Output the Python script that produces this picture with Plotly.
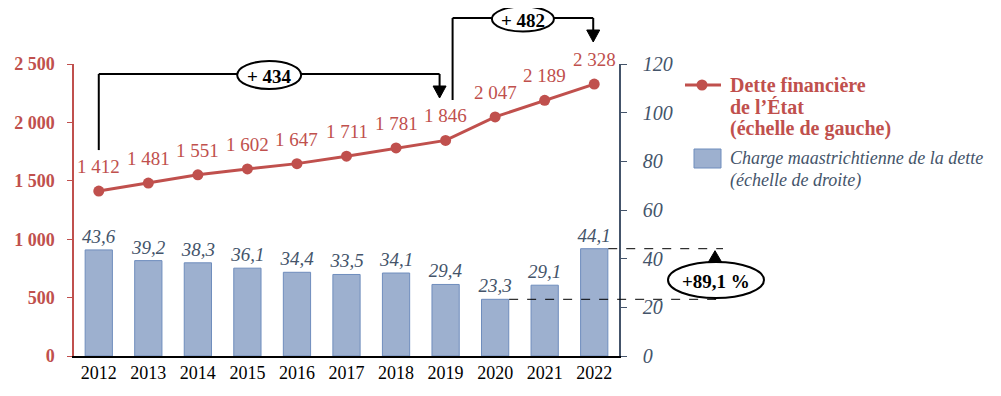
import plotly.graph_objects as go

# ---------------- data ----------------
years = ["2012", "2013", "2014", "2015", "2016", "2017", "2018", "2019", "2020", "2021", "2022"]
debt = [1412, 1481, 1551, 1602, 1647, 1711, 1781, 1846, 2047, 2189, 2328]
charge = [43.6, 39.2, 38.3, 36.1, 34.4, 33.5, 34.1, 29.4, 23.3, 29.1, 44.1]
left_ticks = [0, 500, 1000, 1500, 2000, 2500]
right_ticks = [0, 20, 40, 60, 80, 100, 120]
pct_label = "+89,1 %"
legend_line_text = ["Dette financière", "de l’État", "(échelle de gauche)"]
legend_bar_text = ["Charge maastrichtienne de la dette", "(échelle de droite)"]

# ---------------- style ----------------
FONT = "Liberation Serif"
RED = "#C0504D"
BLUE_TXT = "#44546A"
BAR_FILL = "#9DB0CF"
BAR_LINE = "#6F8DBD"

OFF = 8                      # page body margin
PL, PR, PT, PB = 74, 619, 64, 356   # plot area in page pixels
W, H = 1001 - OFF, 396 - OFF
L, T = PL - OFF, PT - OFF
R, B = W - (PR - OFF), H - (PB - OFF)
PW = PR - PL
PH = PB - PT
YL_MAX = left_ticks[-1]
YR_MAX = right_ticks[-1]
N = len(years)


def px(p):
    return (p - PL) / PW


def py(p):
    return (PB - p) / PH


def cat_px(i):
    return PL + (i + 0.5) * PW / N


def left_px(v):
    return PB - v / YL_MAX * PH


def right_px(v):
    return PB - v / YR_MAX * PH


shapes = []
annotations = []


def seg(x0, y0, x1, y1, width=2, dash=None, color="black"):
    shapes.append(dict(type="line", xref="paper", yref="paper",
                       x0=px(x0), y0=py(y0), x1=px(x1), y1=py(y1),
                       line=dict(color=color, width=width, dash=dash)))


def tri(xc, ytip, up=False, w=13, h=12):
    yb = ytip + h if up else ytip - h
    path = "M {} {} L {} {} L {} {} Z".format(px(xc - w / 2), py(yb), px(xc + w / 2), py(yb), px(xc), py(ytip))
    shapes.append(dict(type="path", xref="paper", yref="paper", path=path,
                       fillcolor="black", line=dict(color="black", width=1)))


def ellipse(xc, yc, w, h, text):
    shapes.append(dict(type="circle", xref="paper", yref="paper",
                       x0=px(xc - w / 2), x1=px(xc + w / 2), y0=py(yc + h / 2), y1=py(yc - h / 2),
                       fillcolor="white", line=dict(color="black", width=2)))
    annotations.append(dict(xref="paper", yref="paper", x=px(xc), y=py(yc + 1), text="<b>" + text + "</b>",
                            showarrow=False, xanchor="center", yanchor="middle",
                            font=dict(family=FONT, size=19, color="black")))


# bracket 2012 -> 2019
xa, xb = cat_px(0), cat_px(7) - 6
seg(xa, left_px(debt[0]) - 41, xa, 74)
seg(xa, 74, xb, 74)
seg(xb, 74, xb, 88)
tri(xb, 98)
ellipse((xa + xb) / 2, 75, 64, 28, "+ {}".format(debt[7] - debt[0]))

# bracket 2019 -> 2022
xc, xd = cat_px(7) + 7, cat_px(10) - 1
seg(xc, 100, xc, 18)
seg(xc, 18, xd, 18)
seg(xd, 18, xd, 32)
tri(xd, 42)
ellipse((xc + xd) / 2, 19, 62, 25, "+ {}".format(debt[10] - debt[7]))

# +89,1 % marker
x_end = 723
seg(cat_px(10) + 14, right_px(charge[10]), x_end, right_px(charge[10]), width=1, dash="dash")
seg(cat_px(8) + 14, right_px(charge[8]), x_end, right_px(charge[8]), width=1, dash="dash")
seg(715, right_px(charge[8]), 715, right_px(charge[10]) + 10, width=2)
tri(715, right_px(charge[10]) + 2, up=True, w=14, h=12)
ellipse(716, 280, 96, 36, pct_label)

# custom legend
seg(685, 85, 721, 85, width=3, color=RED)
shapes.append(dict(type="circle", xref="paper", yref="paper",
                   x0=px(702 - 5.5), x1=px(702 + 5.5), y0=py(85 + 5.5), y1=py(85 - 5.5),
                   fillcolor=RED, line=dict(color=RED, width=0)))
shapes.append(dict(type="rect", xref="paper", yref="paper",
                   x0=px(694), x1=px(721), y0=py(168), y1=py(149),
                   fillcolor=BAR_FILL, line=dict(color=BAR_LINE, width=1)))
for k, t in enumerate(legend_line_text):
    annotations.append(dict(xref="paper", yref="paper", x=px(728), y=py(85 + 21.7 * k),
                            text="<b>" + t + "</b>", showarrow=False, xanchor="left", yanchor="middle",
                            font=dict(family=FONT, size=20, color=RED)))
for k, t in enumerate(legend_bar_text):
    annotations.append(dict(xref="paper", yref="paper", x=px(728), y=py(158 + 22 * k),
                            text="<i>" + t + "</i>", showarrow=False, xanchor="left", yanchor="middle",
                            font=dict(family=FONT, size=18, color=BLUE_TXT)))

# debt value labels above the points
for i, v in enumerate(debt):
    annotations.append(dict(xref="paper", yref="paper", x=px(cat_px(i)), y=py(left_px(v)),
                            text="{:,}".format(v).replace(",", " "),
                            showarrow=False, xanchor="center", yanchor="bottom", yshift=12,
                            font=dict(family=FONT, size=19, color=RED)))

fig = go.Figure()
fig.add_trace(go.Bar(
    x=years, y=charge, yaxis="y2",
    marker=dict(color=BAR_FILL, line=dict(color=BAR_LINE, width=1)),
    width=0.55,
    texttemplate="%{y:.1f}", textposition="outside", cliponaxis=False, constraintext="none",
    textfont=dict(family=FONT, size=19, color=BLUE_TXT, style="italic"),
    hoverinfo="skip",
))
fig.add_trace(go.Scatter(
    x=years, y=debt, yaxis="y", mode="lines+markers",
    line=dict(color=RED, width=3),
    marker=dict(color=RED, size=11),
    cliponaxis=False,
    hoverinfo="skip",
))

fig.update_layout(
    width=W, height=H,
    margin=dict(l=L, r=R, t=T, b=B, pad=0, autoexpand=False),
    paper_bgcolor="white", plot_bgcolor="white",
    showlegend=False,
    separators=", ",
    font=dict(family=FONT),
    xaxis=dict(type="category", range=[-0.5, N - 0.5], showline=True, linecolor="black", linewidth=1.5,
               ticks="", showgrid=False, zeroline=False, automargin=False,
               tickfont=dict(family=FONT, size=18, color="black")),
    yaxis=dict(range=[0, YL_MAX], tickvals=left_ticks, separatethousands=True,
               showline=True, linecolor=RED, linewidth=1.5, ticks="outside", ticklen=5, tickcolor=RED,
               showgrid=False, zeroline=False, ticklabelstandoff=9, automargin=False,
               tickfont=dict(family=FONT, size=18, color=RED, weight="bold")),
    yaxis2=dict(range=[0, YR_MAX], tickvals=right_ticks, overlaying="y", side="right",
                showline=True, linecolor=BLUE_TXT, linewidth=1.5, ticks="outside", ticklen=6,
                tickcolor=BLUE_TXT, showgrid=False, zeroline=False, ticklabelstandoff=12, automargin=False,
                tickfont=dict(family=FONT, size=20, color=BLUE_TXT, style="italic")),
    shapes=shapes,
    annotations=annotations,
)

fig.write_html("out.html")
